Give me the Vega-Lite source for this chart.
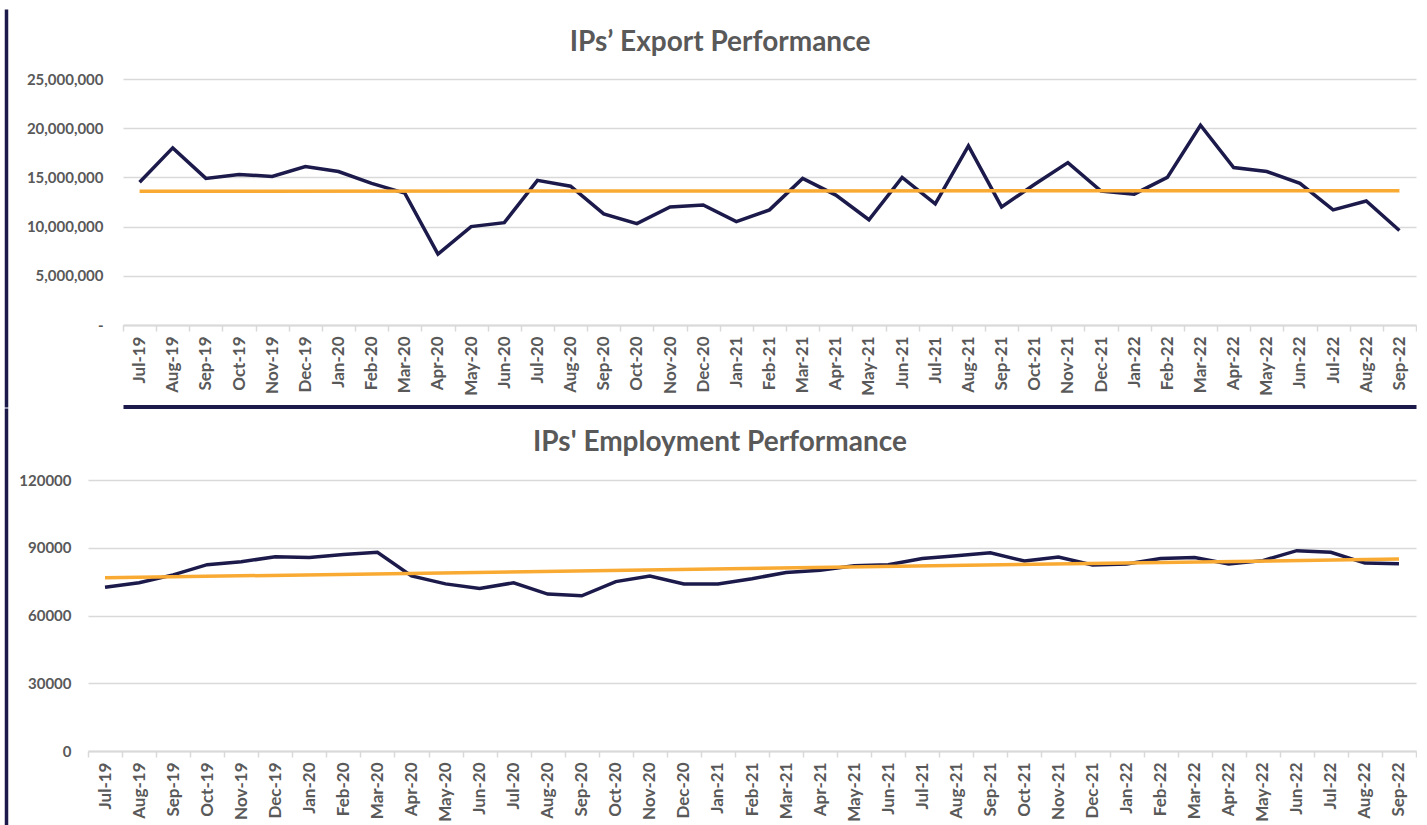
{
  "$schema": "https://vega.github.io/schema/vega-lite/v6.json",
  "padding": {"left": 6, "top": 29, "right": 0, "bottom": 0},
  "background": "white",
  "datasets": {
    "export": [
      {"month": "Jul-19", "value": 14500000},
      {"month": "Aug-19", "value": 18000000},
      {"month": "Sep-19", "value": 14900000},
      {"month": "Oct-19", "value": 15300000},
      {"month": "Nov-19", "value": 15100000},
      {"month": "Dec-19", "value": 16100000},
      {"month": "Jan-20", "value": 15600000},
      {"month": "Feb-20", "value": 14400000},
      {"month": "Mar-20", "value": 13400000},
      {"month": "Apr-20", "value": 7200000},
      {"month": "May-20", "value": 10000000},
      {"month": "Jun-20", "value": 10400000},
      {"month": "Jul-20", "value": 14700000},
      {"month": "Aug-20", "value": 14100000},
      {"month": "Sep-20", "value": 11300000},
      {"month": "Oct-20", "value": 10300000},
      {"month": "Nov-20", "value": 12000000},
      {"month": "Dec-20", "value": 12200000},
      {"month": "Jan-21", "value": 10500000},
      {"month": "Feb-21", "value": 11700000},
      {"month": "Mar-21", "value": 14900000},
      {"month": "Apr-21", "value": 13200000},
      {"month": "May-21", "value": 10700000},
      {"month": "Jun-21", "value": 15000000},
      {"month": "Jul-21", "value": 12300000},
      {"month": "Aug-21", "value": 18200000},
      {"month": "Sep-21", "value": 12000000},
      {"month": "Oct-21", "value": 14300000},
      {"month": "Nov-21", "value": 16500000},
      {"month": "Dec-21", "value": 13600000},
      {"month": "Jan-22", "value": 13300000},
      {"month": "Feb-22", "value": 15000000},
      {"month": "Mar-22", "value": 20300000},
      {"month": "Apr-22", "value": 16000000},
      {"month": "May-22", "value": 15600000},
      {"month": "Jun-22", "value": 14400000},
      {"month": "Jul-22", "value": 11700000},
      {"month": "Aug-22", "value": 12600000},
      {"month": "Sep-22", "value": 9600000}
    ],
    "exportTrend": [
      {"month": "Jul-19", "trend": 13600000},
      {"month": "Sep-22", "trend": 13650000}
    ],
    "employment": [
      {"month": "Jul-19", "value": 72500},
      {"month": "Aug-19", "value": 74500},
      {"month": "Sep-19", "value": 78000},
      {"month": "Oct-19", "value": 82500},
      {"month": "Nov-19", "value": 83800},
      {"month": "Dec-19", "value": 86000},
      {"month": "Jan-20", "value": 85700},
      {"month": "Feb-20", "value": 87000},
      {"month": "Mar-20", "value": 88000},
      {"month": "Apr-20", "value": 77500},
      {"month": "May-20", "value": 74000},
      {"month": "Jun-20", "value": 72000},
      {"month": "Jul-20", "value": 74500},
      {"month": "Aug-20", "value": 69500},
      {"month": "Sep-20", "value": 68700},
      {"month": "Oct-20", "value": 75000},
      {"month": "Nov-20", "value": 77500},
      {"month": "Dec-20", "value": 74000},
      {"month": "Jan-21", "value": 74000},
      {"month": "Feb-21", "value": 76300},
      {"month": "Mar-21", "value": 79000},
      {"month": "Apr-21", "value": 80000},
      {"month": "May-21", "value": 82000},
      {"month": "Jun-21", "value": 82500},
      {"month": "Jul-21", "value": 85200},
      {"month": "Aug-21", "value": 86500},
      {"month": "Sep-21", "value": 87800},
      {"month": "Oct-21", "value": 84100},
      {"month": "Nov-21", "value": 85900},
      {"month": "Dec-21", "value": 82400},
      {"month": "Jan-22", "value": 82800},
      {"month": "Feb-22", "value": 85200},
      {"month": "Mar-22", "value": 85700},
      {"month": "Apr-22", "value": 82800},
      {"month": "May-22", "value": 84300},
      {"month": "Jun-22", "value": 88700},
      {"month": "Jul-22", "value": 88000},
      {"month": "Aug-22", "value": 83200},
      {"month": "Sep-22", "value": 82900}
    ],
    "employmentTrend": [
      {"month": "Jul-19", "trend": 76700},
      {"month": "Sep-22", "trend": 85000}
    ]
  },
  "vconcat": [
    {
      "width": 1328,
      "height": 246,
      "title": {"text": "IPs’ Export Performance", "dx": -32, "offset": 15},
      "layer": [
        {
          "data": {"name": "export"},
          "mark": {"type": "line", "color": "#1c1a4b", "strokeWidth": 3.5},
          "encoding": {
            "x": {
              "field": "month", "type": "ordinal", "title": null,
              "scale": {"type": "band", "paddingInner": 0, "paddingOuter": 0, "range": [35, 1328],
                "domain": ["Jul-19","Aug-19","Sep-19","Oct-19","Nov-19","Dec-19","Jan-20","Feb-20","Mar-20","Apr-20","May-20","Jun-20","Jul-20","Aug-20","Sep-20","Oct-20","Nov-20","Dec-20","Jan-21","Feb-21","Mar-21","Apr-21","May-21","Jun-21","Jul-21","Aug-21","Sep-21","Oct-21","Nov-21","Dec-21","Jan-22","Feb-22","Mar-22","Apr-22","May-22","Jun-22","Jul-22","Aug-22","Sep-22"]},
              "axis": {"labelAngle": -90, "labelFontSize": 17, "tickBand": "extent", "tickColor": "#d9d9d9", "tickSize": 6, "tickWidth": 1.5, "domainColor": "#d9d9d9", "domainWidth": 2, "grid": false, "labelPadding": 5}
            },
            "y": {
              "field": "value", "type": "quantitative", "title": null,
              "scale": {"domain": [0, 25000000], "nice": false},
              "axis": {"values": [0, 5000000, 10000000, 15000000, 20000000, 25000000], "labelExpr": "datum.value == 0 ? '-' : format(datum.value, ',')", "grid": true, "domain": false, "ticks": false, "labelPadding": -15, "minExtent": 70, "maxExtent": 70}
            }
          }
        },
        {
          "data": {"name": "exportTrend"},
          "mark": {"type": "line", "color": "#f9aa33", "strokeWidth": 3.5},
          "encoding": {
            "x": {"field": "month", "type": "ordinal", "title": null,
              "axis": {"orient": "bottom", "offset": 81.5, "labels": false, "ticks": false, "grid": false, "domainColor": "#1b1a4a", "domainWidth": 4}},
            "y": {"field": "trend", "type": "quantitative", "title": null,
              "scale": {"domain": [-8333333.3, 32113821.1], "range": [328, -70], "nice": false, "zero": false},
              "axis": {"orient": "left", "offset": 82, "labels": false, "ticks": false, "grid": false, "domainColor": "#1b1a4a", "domainWidth": 3.5}}
          }
        }
      ],
      "resolve": {"scale": {"y": "independent"}, "axis": {"x": "independent", "y": "independent"}}
    },
    {
      "width": 1328,
      "height": 271,
      "title": {"text": "IPs' Employment Performance", "dx": -32, "offset": 16},
      "layer": [
        {
          "data": {"name": "employment"},
          "mark": {"type": "line", "color": "#1c1a4b", "strokeWidth": 3.5},
          "encoding": {
            "x": {
              "field": "month", "type": "ordinal", "title": null,
              "scale": {"type": "band", "paddingInner": 0, "paddingOuter": 0,
                "domain": ["Jul-19","Aug-19","Sep-19","Oct-19","Nov-19","Dec-19","Jan-20","Feb-20","Mar-20","Apr-20","May-20","Jun-20","Jul-20","Aug-20","Sep-20","Oct-20","Nov-20","Dec-20","Jan-21","Feb-21","Mar-21","Apr-21","May-21","Jun-21","Jul-21","Aug-21","Sep-21","Oct-21","Nov-21","Dec-21","Jan-22","Feb-22","Mar-22","Apr-22","May-22","Jun-22","Jul-22","Aug-22","Sep-22"]},
              "axis": {"labelAngle": -90, "labelFontSize": 17, "tickBand": "extent", "tickColor": "#d9d9d9", "tickSize": 6, "tickWidth": 1.5, "domainColor": "#d9d9d9", "domainWidth": 2, "grid": false, "labelPadding": 5}
            },
            "y": {
              "field": "value", "type": "quantitative", "title": null,
              "scale": {"domain": [0, 120000], "nice": false},
              "axis": {"values": [0, 30000, 60000, 90000, 120000], "format": "d", "grid": true, "domain": false, "ticks": false, "labelPadding": 17, "minExtent": 70, "maxExtent": 70}
            }
          }
        },
        {
          "data": {"name": "employmentTrend"},
          "mark": {"type": "line", "color": "#f9aa33", "strokeWidth": 3.5},
          "encoding": {
            "x": {"field": "month", "type": "ordinal"},
            "y": {"field": "trend", "type": "quantitative", "title": null,
              "scale": {"domain": [-32767.5, 151881.9], "range": [345, -72], "nice": false, "zero": false},
              "axis": {"orient": "left", "offset": 82, "labels": false, "ticks": false, "grid": false, "domainColor": "#1b1a4a", "domainWidth": 3.5}}
          }
        }
      ],
      "resolve": {"scale": {"y": "independent"}, "axis": {"y": "independent"}}
    }
  ],
  "spacing": -48,
  "config": {
    "font": "Lato",
    "view": {"stroke": null},
    "title": {"font": "Lato", "fontSize": 28, "fontWeight": "bold", "color": "#595959", "anchor": "middle"},
    "axis": {"labelFont": "Lato", "labelFontSize": 15, "labelFontWeight": "bold", "labelColor": "#595959", "gridColor": "#d9d9d9", "gridWidth": 1.5}
  }
}
